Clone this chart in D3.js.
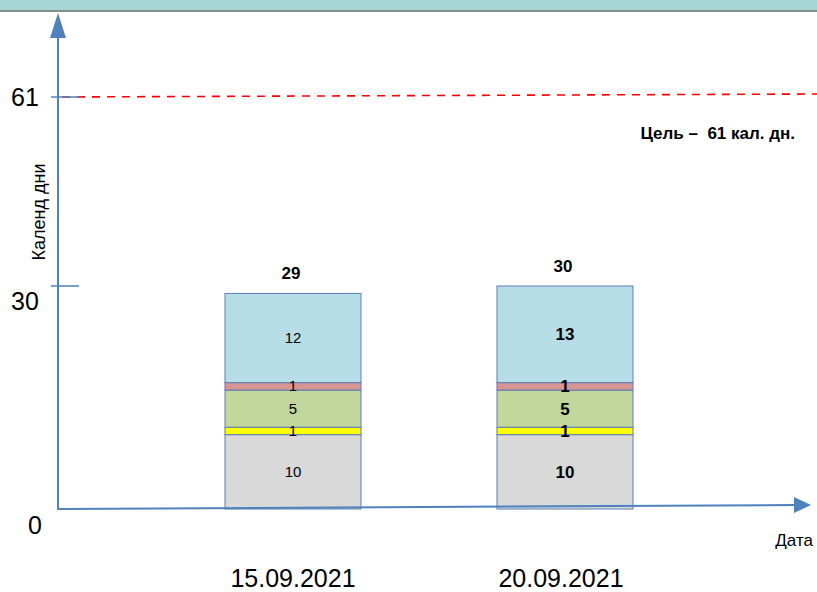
<!DOCTYPE html>
<html lang="ru">
<head>
  <meta charset="UTF-8">
  <title>Календ дни</title>
  <style>
    *{ margin:0; padding:0; }
    body{ background:#fff; }
    text{ font-family:"Liberation Sans","DejaVu Sans",sans-serif; }
  </style>
  <script src="https://cdn.jsdelivr.net/npm/d3@7"></script>
</head>
<body>
  <svg id="mainsvg"></svg>
  <script>
    // данные
    const dates = ['15.09.2021', '20.09.2021']
    const stages = ['s1', 's2', 's3', 's4', 's5']
    const bar1 = [10, 1, 5, 1, 12]
    const bar2 = [10, 1, 5, 1, 13]
    const totals = [29, 30]
    const yTicks = [0, 30, 61]
    const goal = 61
    const colors = ['#d9d9d9', '#ffff00', '#c3d69b', '#d99594', '#b7dde8']

    const width = 817, height = 592
    const svg = d3.select('#mainsvg').attr('width', width).attr('height', height)

    // верхняя полоса
    svg.append('rect').attr('x', 0).attr('y', 0).attr('width', width).attr('height', 11).attr('fill', '#a6d6d6')
    svg.append('rect').attr('x', 0).attr('y', 10).attr('width', width).attr('height', 2).attr('fill', '#7f9090')

    const x0 = 58, yBase = 509
    const x = d3.scalePoint().domain(dates).range([157, 701]).padding(0.5)
    // шкала не линейная на схеме: 0-30-61
    const y = d3.scaleLinear().domain([0, 30, 61]).range([yBase, 286, 97])
    const barW = 136

    const rows = [bar1, bar2].map((vals, i) => {
      const r = { date: dates[i] }
      stages.forEach((s, j) => r[s] = vals[j])
      return r
    })
    const series = d3.stack().keys(stages)(rows)

    const gBars = svg.append('g')
    series.forEach((s, j) => {
      gBars.selectAll(null).data(s).join('rect')
        .attr('x', d => x(d.data.date) - barW / 2)
        .attr('width', barW)
        .attr('y', d => y(d[1]))
        .attr('height', d => y(d[0]) - y(d[1]))
        .attr('fill', colors[j])
        .attr('stroke', '#5b7fb5')
        .attr('stroke-width', 1)
    })
    series.forEach((s, j) => {
      gBars.selectAll(null).data(s).join('text')
        .attr('x', d => x(d.data.date))
        .attr('y', (d, i) => (y(d[0]) + y(d[1])) / 2 + (i === 0 ? 5 : 6))
        .attr('text-anchor', 'middle')
        .attr('font-size', (d, i) => i === 0 ? 15 : 17)
        .attr('font-weight', (d, i) => i === 0 ? 'normal' : 'bold')
        .attr('fill', '#000')
        .text(d => d[1] - d[0])
    })

    // итоги
    svg.selectAll('.total').data(totals).join('text')
      .attr('class', 'total')
      .attr('x', d => x(dates[totals.indexOf(d)]) - 2)
      .attr('y', d => y(d) - 14)
      .attr('text-anchor', 'middle')
      .attr('font-size', 17)
      .attr('font-weight', 'bold')
      .text(d => d)

    // целевая линия
    svg.append('line')
      .attr('x1', x0 + 4).attr('x2', width)
      .attr('y1', y(goal)).attr('y2', y(goal) - 3)
      .attr('stroke', '#ff0000').attr('stroke-width', 1.6)
      .attr('stroke-dasharray', '8 7')
    svg.append('text')
      .attr('x', 795).attr('y', 139)
      .attr('text-anchor', 'end')
      .attr('font-size', 17).attr('font-weight', 'bold')
      .attr('xml:space', 'preserve')
      .text('Цель –  61 кал. дн.')

    // оси
    const axisColor = '#4f81bd'
    svg.append('line').attr('x1', x0).attr('x2', x0).attr('y1', yBase + 1).attr('y2', 36)
      .attr('stroke', axisColor).attr('stroke-width', 2)
    svg.append('path').attr('d', `M${x0 - 8},38 L${x0},13 L${x0 + 8},38 Z`).attr('fill', axisColor)
    svg.append('line').attr('x1', x0).attr('x2', 796).attr('y1', yBase).attr('y2', 505)
      .attr('stroke', axisColor).attr('stroke-width', 2)
    svg.append('path').attr('d', `M794,497 L811,505 L794,513 Z`).attr('fill', axisColor)

    svg.selectAll('.ytick').data(yTicks.filter(d => d > 0)).join('line')
      .attr('class', 'ytick')
      .attr('x1', 51).attr('x2', 79)
      .attr('y1', d => y(d)).attr('y2', d => y(d))
      .attr('stroke', axisColor).attr('stroke-width', 1.5)
    svg.selectAll('.ylab').data(yTicks).join('text')
      .attr('class', 'ylab')
      .attr('x', (d, i) => i === 0 ? 35 : 25)
      .attr('y', (d, i) => i === 0 ? 534 : (i === 1 ? y(d) + 24 : y(d) + 9))
      .attr('text-anchor', 'middle')
      .attr('font-size', 25)
      .text(d => d)

    svg.append('text')
      .attr('transform', 'translate(45,212) rotate(-90)')
      .attr('text-anchor', 'middle')
      .attr('font-size', 18)
      .text('Календ дни')

    svg.append('text').attr('x', 813).attr('y', 546).attr('text-anchor', 'end')
      .attr('font-size', 17).text('Дата')

    svg.selectAll('.xlab').data(dates).join('text')
      .attr('class', 'xlab')
      .attr('x', (d, i) => x(d) - i * 4)
      .attr('y', 587)
      .attr('text-anchor', 'middle')
      .attr('font-size', 25)
      .text(d => d)
  </script>
</body>
</html>
